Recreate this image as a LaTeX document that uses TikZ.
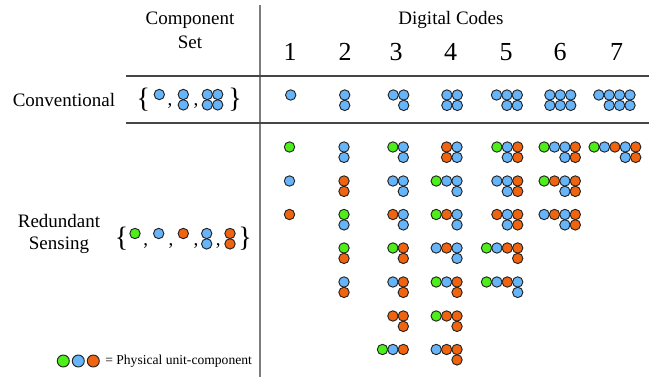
\documentclass[tikz,border=0pt]{standalone}
\usepackage{fontspec}
\setmainfont{Liberation Serif}
\usepackage{xcolor}
\usepackage{tikz}
\definecolor{cgreen}{RGB}{76,240,24}
\definecolor{cblue}{RGB}{102,180,250}
\definecolor{corange}{RGB}{240,100,16}
\definecolor{crule}{RGB}{70,70,70}
\definecolor{cvrule}{RGB}{125,125,125}
\definecolor{cedge}{RGB}{35,35,35}

% One code pattern: right end x, top y, top row, bottom row (colours left to right)
\newcommand{\codeunits}[4]{%
    \foreach \col [count=\k] in {#3} {\xdef\ntop{\k}}
    \foreach \col [count=\k] in {#3} {
        \draw[unit=\col] ({#1-(\ntop-\k)*10.4},#2) circle[radius=3.9pt];
    }
    \def\botrow{#4}%
    \ifx\botrow\empty\else
        \foreach \col [count=\k] in {#4} {\xdef\nbot{\k}}
        \foreach \col [count=\k] in {#4} {
            \draw[unit=\col] ({#1-(\nbot-\k)*10.4},#2+10.4) circle[radius=3.9pt];
        }
    \fi
}

\begin{document}
\begin{tikzpicture}[
    x=0.75pt, y=-0.75pt,
    hdr/.style={
        font=\fontsize{14.25}{18}\selectfont,
        align=center,
        inner sep=0pt
    },
    digit/.style={
        font=\fontsize{19.5}{20}\selectfont,
        inner sep=0pt
    },
    brace/.style={
        font=\fontsize{21}{22}\selectfont,
        inner sep=0pt
    },
    comma/.style={
        font=\fontsize{14.25}{16}\selectfont,
        inner sep=0pt
    },
    unit/.style={
        draw=cedge,
        fill=#1,
        line width=0.7pt
    },
    hrule/.style={
        draw=crule,
        line width=1pt
    },
    vrule/.style={
        draw=cvrule,
        line width=1.5pt
    }
]
\useasboundingbox (0,0) rectangle (649,377);

% Table rules
\draw[vrule] (260,5) -- (260,377);
\draw[hrule] (126,76) -- (649,76);
\draw[hrule] (126,123) -- (649,123);

% Header
\node[hdr] (compset) at (190,30) {Component\\Set};
\node[hdr] (codes) at (451,20) {Digital Codes};
\node[digit] (code1) at (290,52) {1};
\node[digit] (code2) at (345,52) {2};
\node[digit] (code3) at (396,52) {3};
\node[digit] (code4) at (450.7,52) {4};
\node[digit] (code5) at (506,52) {5};
\node[digit] (code6) at (560,52) {6};
\node[digit] (code7) at (616.7,52) {7};

% Row 1: Conventional
\node[hdr] (conv) at (64,100) {Conventional};
\node[brace] (convopen) at (143.3,100) {\{};
\codeunits{159.3}{94.5}{cblue}{}
\node[comma] (convc1) at (170,106) {,};
\codeunits{183.3}{94.5}{cblue}{cblue}
\node[comma] (convc2) at (196,106) {,};
\codeunits{217.7}{94.5}{cblue,cblue}{cblue,cblue}
\node[brace] (convclose) at (235,100) {\}};

\codeunits{290.7}{95}{cblue}{}
\codeunits{344.7}{95}{cblue}{cblue}
\codeunits{403.7}{95}{cblue,cblue}{cblue}
\codeunits{457.3}{95}{cblue,cblue}{cblue,cblue}
\codeunits{517.3}{95}{cblue,cblue,cblue}{cblue,cblue}
\codeunits{570.7}{95}{cblue,cblue,cblue}{cblue,cblue,cblue}
\codeunits{630}{95}{cblue,cblue,cblue,cblue}{cblue,cblue,cblue}

% Row 2: Redundant Sensing
\node[hdr, font=\fontsize{14.25}{16.3}\selectfont] (redund) at (59,234) {Redundant\\Sensing};
\node[brace] (redopen) at (121.7,239) {\{};
\codeunits{135}{233.5}{cgreen}{}
\node[comma] (redc1) at (145.7,246) {,};
\codeunits{158.7}{233.5}{cblue}{}
\node[comma] (redc2) at (171,246) {,};
\codeunits{183.3}{233.5}{corange}{}
\node[comma] (redc3) at (196,246) {,};
\codeunits{206.7}{233.5}{cblue}{cblue}
\node[comma] (redc4) at (218.3,246) {,};
\codeunits{230}{233.5}{corange}{corange}
\node[brace] (redclose) at (245,239) {\}};

% Code 1
\codeunits{289.5}{147}{cgreen}{}
\codeunits{289.5}{181}{cblue}{}
\codeunits{289.5}{214.5}{corange}{}

% Code 2
\codeunits{344}{147}{cblue}{cblue}
\codeunits{344}{181}{corange}{corange}
\codeunits{344}{214.5}{cgreen}{cblue}
\codeunits{344}{248}{cgreen}{corange}
\codeunits{344}{282}{cblue}{corange}

% Code 3
\codeunits{403.3}{147}{cgreen,cblue}{cblue}
\codeunits{403.3}{181}{cblue,cblue}{cblue}
\codeunits{403.3}{214.5}{corange,cblue}{cblue}
\codeunits{403.3}{248}{cgreen,corange}{corange}
\codeunits{403.3}{282}{cblue,corange}{corange}
\codeunits{403.3}{316}{corange,corange}{corange}
\codeunits{403.3}{349.5}{cgreen,cblue,corange}{}

% Code 4
\codeunits{457}{147}{corange,cblue}{corange,cblue}
\codeunits{457}{181}{cgreen,cblue,cblue}{cblue}
\codeunits{457}{214.5}{cgreen,corange,cblue}{cblue}
\codeunits{457}{248}{cblue,corange,cblue}{cblue}
\codeunits{457}{282}{cgreen,cblue,corange}{corange}
\codeunits{457}{316}{cgreen,corange,corange}{corange}
\codeunits{457}{349.5}{cblue,corange,corange}{corange}

% Code 5
\codeunits{517.7}{147}{cgreen,cblue,corange}{cblue,corange}
\codeunits{517.7}{181}{cblue,cblue,corange}{cblue,corange}
\codeunits{517.7}{214.5}{corange,cblue,corange}{cblue,corange}
\codeunits{517.7}{248}{cgreen,cblue,corange,corange}{corange}
\codeunits{517.7}{282}{cgreen,cblue,corange,cblue}{cblue}

% Code 6
\codeunits{575.3}{147}{cgreen,cblue,cblue,corange}{cblue,corange}
\codeunits{575.3}{181}{cgreen,corange,cblue,corange}{cblue,corange}
\codeunits{575.3}{214.5}{cblue,corange,cblue,corange}{cblue,corange}

% Code 7
\codeunits{635.7}{147}{cgreen,cblue,corange,cblue,corange}{cblue,corange}

% Legend
\draw[unit=cgreen] (63.3,361) circle[radius=4.5pt];
\draw[unit=cblue] (78.3,361) circle[radius=4.5pt];
\draw[unit=corange] (93.3,361) circle[radius=4.5pt];
\node[anchor=west, inner sep=0pt, font=\fontsize{10.2}{12}\selectfont] (legend) at (105,361) {= Physical unit-component};

\end{tikzpicture}
\end{document}
